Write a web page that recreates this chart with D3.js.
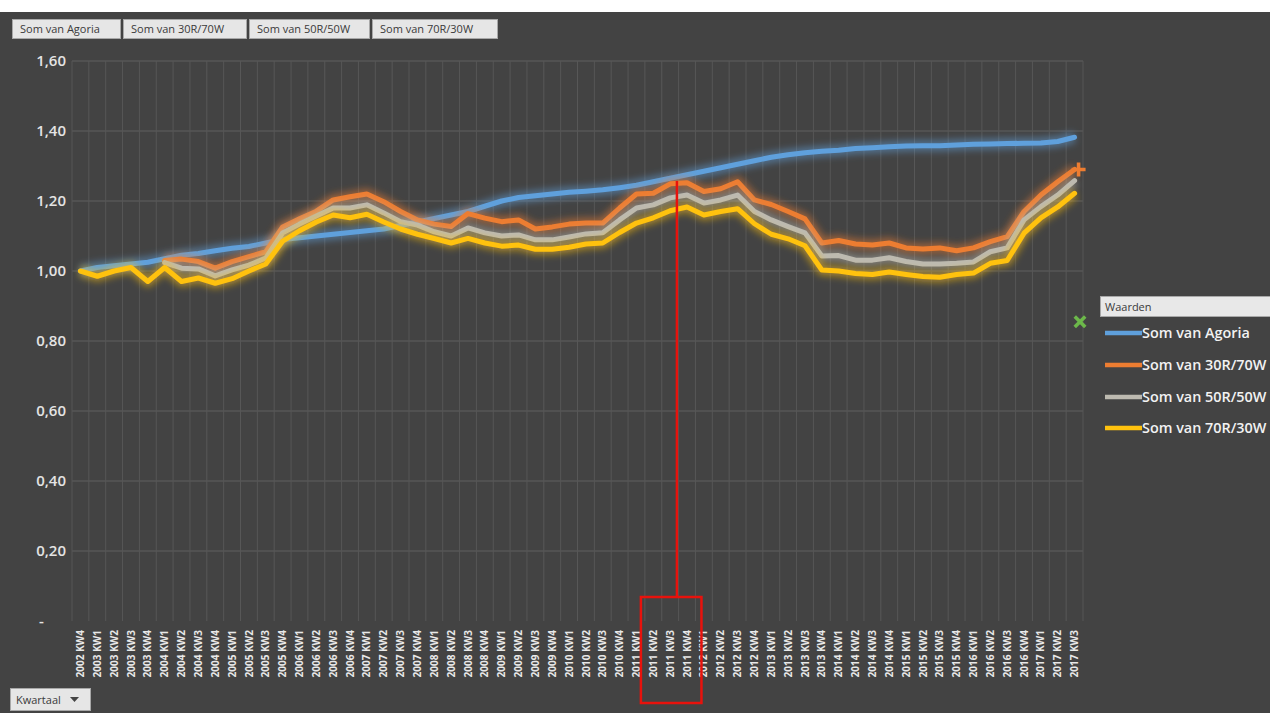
<!DOCTYPE html>
<html><head><meta charset="utf-8">
<script src="https://cdn.jsdelivr.net/npm/d3@7"></script>
<style>
html,body{margin:0;padding:0;background:#434343;overflow:hidden;}
svg{display:block;}
</style></head><body>
<svg id="c" width="1270" height="713"></svg>
<script>
const quarters = ["2002 KW4",
 "2003 KW1","2003 KW2","2003 KW3","2003 KW4",
 "2004 KW1","2004 KW2","2004 KW3","2004 KW4",
 "2005 KW1","2005 KW2","2005 KW3","2005 KW4",
 "2006 KW1","2006 KW2","2006 KW3","2006 KW4",
 "2007 KW1","2007 KW2","2007 KW3","2007 KW4",
 "2008 KW1","2008 KW2","2008 KW3","2008 KW4",
 "2009 KW1","2009 KW2","2009 KW3","2009 KW4",
 "2010 KW1","2010 KW2","2010 KW3","2010 KW4",
 "2011 KW1","2011 KW2","2011 KW3","2011 KW4",
 "2012 KW1","2012 KW2","2012 KW3","2012 KW4",
 "2013 KW1","2013 KW2","2013 KW3","2013 KW4",
 "2014 KW1","2014 KW2","2014 KW3","2014 KW4",
 "2015 KW1","2015 KW2","2015 KW3","2015 KW4",
 "2016 KW1","2016 KW2","2016 KW3","2016 KW4",
 "2017 KW1","2017 KW2","2017 KW3"];

const agoria = [1.00,1.01,1.015,1.02,1.025,1.035,1.045,1.05,1.058,1.065,
 1.07,1.08,1.09,1.095,1.10,1.105,1.11,1.115,1.12,1.13,
 1.14,1.15,1.16,1.17,1.185,1.20,1.21,1.215,1.22,1.225,
 1.228,1.232,1.238,1.245,1.255,1.265,1.275,1.285,1.295,1.305,
 1.315,1.325,1.332,1.338,1.342,1.345,1.35,1.352,1.355,1.357,
 1.358,1.358,1.36,1.362,1.363,1.364,1.365,1.366,1.37,1.382];

const r30w70 = [null,null,null,null,null,1.03,1.034,1.027,1.008,1.027,
 1.041,1.055,1.126,1.149,1.171,1.203,1.212,1.22,1.198,1.17,
 1.146,1.134,1.127,1.164,1.151,1.141,1.146,1.12,1.126,1.134,
 1.137,1.137,1.18,1.22,1.222,1.249,1.252,1.227,1.235,1.255,
 1.203,1.19,1.17,1.149,1.08,1.087,1.077,1.074,1.08,1.066,
 1.063,1.066,1.058,1.066,1.084,1.098,1.17,1.217,1.255,1.29];

const r50w50 = [null,null,null,null,null,1.024,1.008,1.006,0.986,1.003,
 1.017,1.037,1.109,1.134,1.157,1.18,1.18,1.189,1.166,1.141,
 1.131,1.112,1.10,1.123,1.109,1.10,1.103,1.089,1.089,1.097,
 1.106,1.109,1.146,1.18,1.189,1.209,1.217,1.194,1.203,1.217,
 1.17,1.146,1.127,1.109,1.043,1.044,1.031,1.031,1.038,1.027,
 1.02,1.02,1.022,1.026,1.055,1.066,1.146,1.184,1.217,1.258];

const r70w30 = [1.00,0.985,1.00,1.01,0.97,1.01,0.97,0.98,0.965,0.978,
 1.00,1.02,1.085,1.115,1.14,1.16,1.152,1.162,1.14,1.12,
 1.105,1.093,1.08,1.093,1.08,1.071,1.074,1.062,1.062,1.068,
 1.077,1.08,1.11,1.137,1.152,1.172,1.183,1.16,1.17,1.178,
 1.135,1.105,1.092,1.072,1.003,1.00,0.993,0.99,0.997,0.99,
 0.984,0.982,0.99,0.994,1.022,1.03,1.108,1.152,1.183,1.222];

const yTicks = [0,0.2,0.4,0.6,0.8,1.0,1.2,1.4,1.6];
const seriesNames = ["Som van Agoria","Som van 30R/70W","Som van 50R/50W","Som van 70R/30W"];
const seriesColors = ["#5fa0dc","#ed7d31","#bdbab0","#ffc20e"];
const legendTitle = "Waarden";
const axisButton = "Kwartaal";
const highlighted = ["2011 KW2","2011 KW3","2011 KW4"];
const pointer = "2011 KW3";

const series = [agoria, r30w70, r50w50, r70w30];

const svg = d3.select("#c");
const W = 1270, H = 713;
svg.append("rect").attr("width",W).attr("height",H).attr("fill","#434343");
svg.append("rect").attr("width",W).attr("height",12).attr("fill","#ffffff");

const defs = svg.append("defs");
defs.append("filter").attr("id","glow").attr("x","-10%").attr("y","-30%").attr("width","120%").attr("height","160%")
  .append("feGaussianBlur").attr("stdDeviation",3.5);

const x = d3.scaleBand().domain(quarters).range([72,1083]).padding(0);
const bw = x.bandwidth();
const xc = q => x(q) + bw/2;
const y = d3.scaleLinear().domain([0,1.6]).range([621,61]);

// gridlines
const grid = svg.append("g");
grid.selectAll("line.h").data(yTicks.filter(d=>d>0)).enter().append("line")
  .attr("x1",72).attr("x2",1083).attr("y1",d=>y(d)).attr("y2",d=>y(d))
  .attr("stroke","#606060").attr("stroke-width",1);
grid.selectAll("line.v").data(quarters.concat(["__end"])).enter().append("line")
  .attr("x1",(d,i)=>72+i*bw).attr("x2",(d,i)=>72+i*bw)
  .attr("y1",y(1.6)).attr("y2",y(0))
  .attr("stroke","#575757").attr("stroke-width",1);

// y axis
const yAxis = d3.axisLeft(y).tickValues(yTicks).tickSize(0).tickPadding(0)
  .tickFormat(d => d===0 ? "-" : d.toFixed(2).replace(".",","));
const gy = svg.append("g").attr("transform","translate(66,0)").call(yAxis);
gy.select(".domain").remove();
gy.selectAll("text").attr("fill","#e4e4e4").style("font-family","'Open Sans', sans-serif")
  .style("font-size","15px").style("font-weight","600");
gy.selectAll("text").filter(d=>d===0).attr("text-anchor","start").attr("x",-27);

// x axis
const xAxis = d3.axisBottom(x).tickSize(0).tickPadding(0);
const gx = svg.append("g").attr("transform","translate(0,621)").call(xAxis);
gx.select(".domain").remove();
gx.selectAll("text").attr("transform","rotate(-90)").attr("text-anchor","end")
  .attr("x",-9).attr("y",0).attr("dy","0.36em")
  .attr("fill","#e8e8e8").style("font-family","'Open Sans', sans-serif")
  .style("font-size","10px").style("font-weight","700");

// lines
const line = d3.line().defined(d=>d.v!=null).x(d=>xc(d.q)).y(d=>y(d.v)).curve(d3.curveLinear);
series.forEach((s,k)=>{
  const pts = quarters.map((q,i)=>({q, v:s[i]}));
  svg.append("path").attr("d",line(pts)).attr("fill","none").attr("stroke",seriesColors[k])
    .attr("stroke-width",11).attr("stroke-opacity",0.5).attr("stroke-linejoin","round")
    .attr("filter","url(#glow)");
  svg.append("path").attr("d",line(pts)).attr("fill","none").attr("stroke",seriesColors[k])
    .attr("stroke-width",5).attr("stroke-linejoin","round").attr("stroke-linecap","round");
});

// orange plus marker at end of 30R/70W
const lastQ = quarters[quarters.length-1];
svg.append("path")
  .attr("transform",`translate(${xc(lastQ)+4},${y(r30w70[r30w70.length-1])})`)
  .attr("d","M-7,-1.8H-1.8V-7H1.8V-1.8H7V1.8H1.8V7H-1.8V1.8H-7Z")
  .attr("fill","#ed7d31");

// green x marker
svg.append("path")
  .attr("transform",`translate(1080,${y(0.855)})`)
  .attr("d","M-6.5,-4 L-4,-6.5 L0,-2.5 L4,-6.5 L6.5,-4 L2.5,0 L6.5,4 L4,6.5 L0,2.5 L-4,6.5 L-6.5,4 L-2.5,0Z")
  .attr("fill","#6cb84a");

// red annotation
const px = xc(pointer) + bw*0.4;
svg.append("line").attr("x1",px).attr("x2",px).attr("y1",y(1.257)).attr("y2",597)
  .attr("stroke","#e8120c").attr("stroke-width",2.5);
const rx0 = x(highlighted[0]) - 4, rx1 = x(highlighted[highlighted.length-1]) + bw + 6;
svg.append("rect").attr("x",rx0).attr("y",597).attr("width",rx1-rx0).attr("height",106)
  .attr("fill","none").attr("stroke","#e8120c").attr("stroke-width",2.5);

// top field buttons
const btns = [[12,120],[123,246],[249,369],[372,497]];
const tb = svg.append("g");
seriesNames.forEach((n,i)=>{
  const [a,b] = btns[i];
  tb.append("rect").attr("x",a+0.5).attr("y",19.5).attr("width",b-a).attr("height",19)
    .attr("fill","#e6e6e6").attr("stroke","#a8a8a8");
  tb.append("text").attr("x",a+8).attr("y",33).text(n).attr("fill","#3a3a3a")
    .style("font-family","'Open Sans', sans-serif").style("font-size","11px");
});

// Kwartaal button
const kb = svg.append("g");
kb.append("rect").attr("x",10.5).attr("y",688.5).attr("width",80).attr("height",22)
  .attr("fill","#e6e6e6").attr("stroke","#a8a8a8");
kb.append("text").attr("x",16).attr("y",704).text(axisButton).attr("fill","#3a3a3a")
  .style("font-family","'Open Sans', sans-serif").style("font-size","11px");
kb.append("path").attr("d","M70,697 L79,697 L74.5,702Z").attr("fill","#444");

// legend
const lg = svg.append("g");
lg.append("rect").attr("x",1100.5).attr("y",296.5).attr("width",175).attr("height",20)
  .attr("fill","#e8e8e8").attr("stroke","#a8a8a8");
lg.append("text").attr("x",1105).attr("y",311).text(legendTitle).attr("fill","#3a3a3a")
  .style("font-family","'Open Sans', sans-serif").style("font-size","11px");
const ly = [333,365,397,428];
seriesNames.forEach((n,i)=>{
  lg.append("line").attr("x1",1105).attr("x2",1142).attr("y1",ly[i]).attr("y2",ly[i])
    .attr("stroke",seriesColors[i]).attr("stroke-width",4.5);
  lg.append("text").attr("x",1142).attr("y",ly[i]+5).text(n).attr("fill","#f2f2f2")
    .style("font-family","'Open Sans', sans-serif").style("font-size","14.4px").style("font-weight","600");
});
</script>
</body></html>
